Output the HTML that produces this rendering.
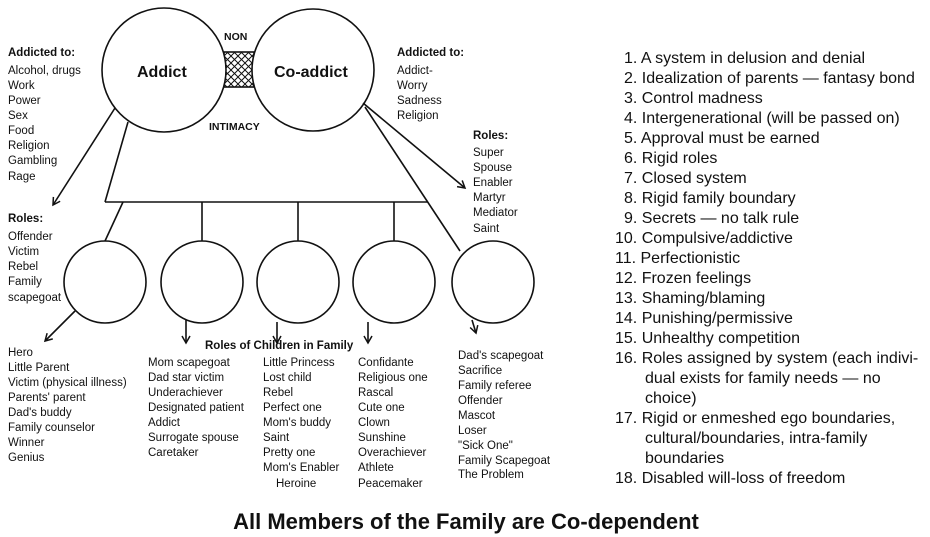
<!DOCTYPE html>
<html><head><meta charset="utf-8"><style>
html,body{margin:0;padding:0;background:#fff}
svg{display:block}
text{font-family:"Liberation Sans",Arial,sans-serif;fill:#111}
.s{font-size:11.5px}
.b{font-weight:bold}
.r{font-size:16px}
</style></head><body>
<svg width="930" height="537" viewBox="0 0 930 537" xmlns="http://www.w3.org/2000/svg">
<defs>
<pattern id="h" width="7" height="7" patternUnits="userSpaceOnUse">
<path d="M0,0L7,7M7,0L0,7" stroke="#111" stroke-width="1"/>
</pattern>
<marker id="a" markerWidth="10" markerHeight="10" refX="8" refY="5" orient="auto" markerUnits="userSpaceOnUse">
<path d="M1,1L8,5L1,9" fill="none" stroke="#111" stroke-width="1.5"/>
</marker>
</defs>
<g stroke="#111" stroke-width="1.6" fill="none">
<rect x="224" y="52" width="30" height="35" fill="url(#h)"/>
<circle cx="164" cy="70" r="62" fill="#fff"/>
<circle cx="313" cy="70" r="61" fill="#fff"/>
<line x1="128" y1="122" x2="105" y2="202"/>
<line x1="105" y1="202" x2="428" y2="202"/>
<line x1="365" y1="107" x2="460" y2="251"/>
<line x1="123" y1="202" x2="105" y2="241"/>
<line x1="202" y1="202" x2="202" y2="241"/>
<line x1="298" y1="202" x2="298" y2="241"/>
<line x1="394" y1="202" x2="394" y2="241"/>
<line x1="115" y1="108" x2="53" y2="205" marker-end="url(#a)"/>
<line x1="363" y1="103" x2="465" y2="188" marker-end="url(#a)"/>
<circle cx="105" cy="282" r="41"/>
<circle cx="202" cy="282" r="41"/>
<circle cx="298" cy="282" r="41"/>
<circle cx="394" cy="282" r="41"/>
<circle cx="493" cy="282" r="41"/>
<line x1="75" y1="311" x2="45" y2="341" marker-end="url(#a)"/>
<line x1="186" y1="320" x2="186" y2="343" marker-end="url(#a)"/>
<line x1="277" y1="322" x2="277" y2="343" marker-end="url(#a)"/>
<line x1="368" y1="322" x2="368" y2="343" marker-end="url(#a)"/>
<line x1="472" y1="320" x2="476" y2="333" marker-end="url(#a)"/>
</g>
<text x="137" y="77" class="b" font-size="16">Addict</text>
<text x="274" y="77" class="b" font-size="16">Co-addict</text>
<text x="224" y="40" class="b" font-size="10.5">NON</text>
<text x="209" y="130" class="b" font-size="10.5">INTIMACY</text>
<g class="s">
<text x="8" y="56" class="b">Addicted to:</text>
<text x="8" y="74">Alcohol, drugs</text><text x="8" y="89">Work</text><text x="8" y="104">Power</text><text x="8" y="119">Sex</text><text x="8" y="134">Food</text><text x="8" y="149">Religion</text><text x="8" y="164">Gambling</text><text x="8" y="180">Rage</text>
<text x="8" y="222" class="b">Roles:</text>
<text x="8" y="240">Offender</text><text x="8" y="255">Victim</text><text x="8" y="270">Rebel</text><text x="8" y="285">Family</text><text x="8" y="301">scapegoat</text>
<text x="8" y="356">Hero</text><text x="8" y="371">Little Parent</text><text x="8" y="386">Victim (physical illness)</text><text x="8" y="401">Parents' parent</text><text x="8" y="416">Dad's buddy</text><text x="8" y="431">Family counselor</text><text x="8" y="446">Winner</text><text x="8" y="461">Genius</text>
<text x="205" y="349" class="b">Roles of Children in Family</text>
<text x="148" y="366">Mom scapegoat</text><text x="148" y="381">Dad star victim</text><text x="148" y="396">Underachiever</text><text x="148" y="411">Designated patient</text><text x="148" y="426">Addict</text><text x="148" y="441">Surrogate spouse</text><text x="148" y="456">Caretaker</text>
<text x="263" y="366">Little Princess</text><text x="263" y="381">Lost child</text><text x="263" y="396">Rebel</text><text x="263" y="411">Perfect one</text><text x="263" y="426">Mom's buddy</text><text x="263" y="441">Saint</text><text x="263" y="456">Pretty one</text><text x="263" y="471">Mom's Enabler</text><text x="276" y="487">Heroine</text>
<text x="358" y="366">Confidante</text><text x="358" y="381">Religious one</text><text x="358" y="396">Rascal</text><text x="358" y="411">Cute one</text><text x="358" y="426">Clown</text><text x="358" y="441">Sunshine</text><text x="358" y="456">Overachiever</text><text x="358" y="471">Athlete</text><text x="358" y="487">Peacemaker</text>
<text x="458" y="359">Dad's scapegoat</text><text x="458" y="374">Sacrifice</text><text x="458" y="389">Family referee</text><text x="458" y="404">Offender</text><text x="458" y="419">Mascot</text><text x="458" y="434">Loser</text><text x="458" y="449">"Sick One"</text><text x="458" y="464">Family Scapegoat</text><text x="458" y="478">The Problem</text>
<text x="397" y="56" class="b">Addicted to:</text>
<text x="397" y="74">Addict-</text><text x="397" y="89">Worry</text><text x="397" y="104">Sadness</text><text x="397" y="119">Religion</text>
<text x="473" y="139" class="b">Roles:</text>
<text x="473" y="156">Super</text><text x="473" y="171">Spouse</text><text x="473" y="186">Enabler</text><text x="473" y="201">Martyr</text><text x="473" y="216">Mediator</text><text x="473" y="232">Saint</text>
</g>
<g class="r">
<text x="624" y="63">1. A system in delusion and denial</text>
<text x="624" y="83">2. Idealization of parents — fantasy bond</text>
<text x="624" y="103">3. Control madness</text>
<text x="624" y="123">4. Intergenerational (will be passed on)</text>
<text x="624" y="143">5. Approval must be earned</text>
<text x="624" y="163">6. Rigid roles</text>
<text x="624" y="183">7. Closed system</text>
<text x="624" y="203">8. Rigid family boundary</text>
<text x="624" y="223">9. Secrets — no talk rule</text>
<text x="615" y="243">10. Compulsive/addictive</text>
<text x="615" y="263">11. Perfectionistic</text>
<text x="615" y="283">12. Frozen feelings</text>
<text x="615" y="303">13. Shaming/blaming</text>
<text x="615" y="323">14. Punishing/permissive</text>
<text x="615" y="343">15. Unhealthy competition</text>
<text x="615" y="363">16. Roles assigned by system (each indivi-</text>
<text x="645" y="383">dual exists for family needs — no</text>
<text x="645" y="403">choice)</text>
<text x="615" y="423">17. Rigid or enmeshed ego boundaries,</text>
<text x="645" y="443">cultural/boundaries, intra-family</text>
<text x="645" y="463">boundaries</text>
<text x="615" y="483">18. Disabled will-loss of freedom</text>
</g>
<text x="466" y="529" text-anchor="middle" class="b" font-size="22">All Members of the Family are Co-dependent</text>
</svg>
</body></html>
